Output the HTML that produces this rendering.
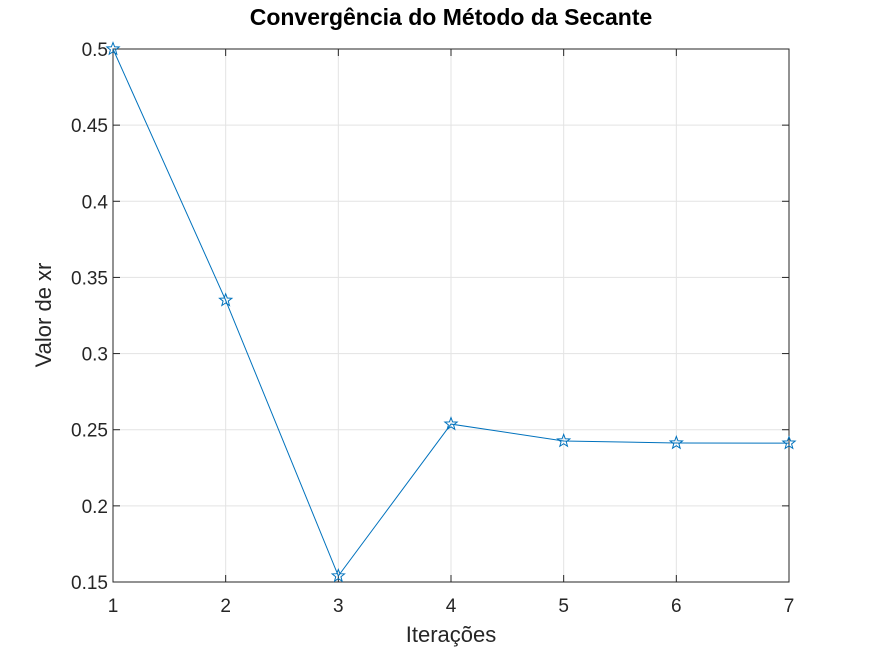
<!DOCTYPE html>
<html><head><meta charset="utf-8"><style>
html,body{margin:0;padding:0;background:#fff;}
svg{display:block;font-family:"Liberation Sans",sans-serif;}
</style></head><body>
<svg id="chart" width="872" height="654"></svg>
<script>
const iterations = [1,2,3,4,5,6,7];
const xrValues = [0.5,0.335,0.154,0.2537,0.2426,0.2413,0.2412];
const xTicks = [1,2,3,4,5,6,7];
const yTicks = [0.15,0.2,0.25,0.3,0.35,0.4,0.45,0.5];
const yTickLabels = ["0.15","0.2","0.25","0.3","0.35","0.4","0.45","0.5"];

const L=113,R=789,T=49,B=582;
const sx=v=>L+(v-1)/(7-1)*(R-L);
const sy=v=>B-(v-0.15)/(0.5-0.15)*(B-T);
const NS="http://www.w3.org/2000/svg";
const svg=document.getElementById('chart');
function mk(tag,attrs,parent){const e=document.createElementNS(NS,tag);for(const k in attrs)e.setAttribute(k,attrs[k]);(parent||svg).appendChild(e);return e;}

const grid=mk('g',{});


xTicks.forEach(t=>{mk('line',{x1:sx(t),x2:sx(t),y1:T,y2:B,stroke:'#e3e3e3','stroke-width':1},grid);});
yTicks.forEach(t=>{mk('line',{x1:L,x2:R,y1:sy(t),y2:sy(t),stroke:'#e3e3e3','stroke-width':1},grid);});

const box=mk('rect',{x:L,y:T,width:R-L,height:B-T,fill:'none',stroke:'#262626','stroke-width':1});



const ticks=mk('g',{stroke:'#262626','stroke-width':1});
xTicks.forEach(t=>{mk('line',{x1:sx(t),x2:sx(t),y1:B,y2:B-7},ticks);mk('line',{x1:sx(t),x2:sx(t),y1:T,y2:T+7},ticks);});
yTicks.forEach(t=>{mk('line',{x1:L,x2:L+7,y1:sy(t),y2:sy(t)},ticks);mk('line',{x1:R,x2:R-7,y1:sy(t),y2:sy(t)},ticks);});

const xl=mk('g',{'font-size':19,fill:'#262626','text-anchor':'middle'});


xTicks.forEach(t=>{const e=mk('text',{x:sx(t),y:B+30},xl);e.textContent=t;});
const yl=mk('g',{'font-size':19,fill:'#262626','text-anchor':'end'});


yTicks.forEach((t,i)=>{const e=mk('text',{x:L-5,y:sy(t)+7},yl);e.textContent=yTickLabels[i];});

const pts=iterations.map((it,i)=>sx(it)+','+sy(xrValues[i])).join(' ');
const line=mk('polyline',{points:pts,fill:'none',stroke:'#0072bd','stroke-width':1});



function star(cx,cy,r){let p=[];for(let k=0;k<10;k++){const a=-Math.PI/2+k*Math.PI/5;const rr=k%2?r*0.42:r;p.push((cx+rr*Math.cos(a)).toFixed(2)+','+(cy+rr*Math.sin(a)).toFixed(2));}return p.join(' ');}
iterations.forEach((it,i)=>{
  const s=mk('polygon',{points:star(sx(it),sy(xrValues[i]),6.5),fill:'none',stroke:'#0072bd','stroke-width':1});
  
  
});

const title=mk('text',{x:451,y:25,'font-size':23,'font-weight':'bold','text-anchor':'middle',fill:'#000'});
title.textContent='Convergência do Método da Secante';


const xt=mk('text',{x:451,y:642,'font-size':22,'text-anchor':'middle',fill:'#262626'});
xt.textContent='Iterações';


const yt=mk('text',{x:0,y:0,'font-size':22,'text-anchor':'middle',fill:'#262626',transform:'translate(51,315) rotate(-90)'});
yt.textContent='Valor de xr';


</script>
</body></html>
